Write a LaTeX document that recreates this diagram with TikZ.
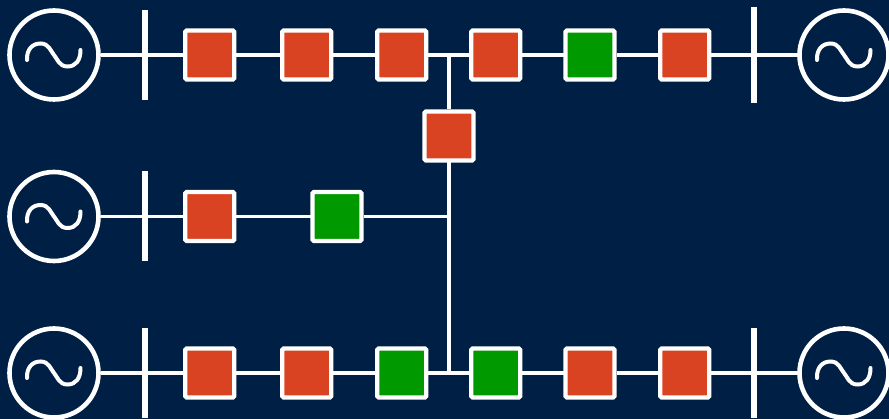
\documentclass[tikz,border=0pt]{standalone}
\usepackage{tikz}
\definecolor{navy}{HTML}{001F44}
\definecolor{redbox}{HTML}{DA4321}
\definecolor{greenbox}{HTML}{009900}
\tikzset{
  link/.style={draw=white,line width=3.8pt},
  gen/.style={circle,draw=white,line width=4.6pt,minimum size=89pt,inner sep=0pt,outer sep=2pt},
  wave/.style={draw=white,line width=4pt,line cap=round},
  bus/.style={rectangle,fill=white,draw=none,minimum width=6pt,inner sep=0pt,outer sep=0pt},
  redsq/.style={rectangle,rounded corners=1.5pt,draw=white,fill=redbox,line width=4.4pt,minimum size=49pt,inner sep=0pt,outer sep=2pt},
  greensq/.style={redsq,fill=greenbox},
}
\begin{document}
\begin{tikzpicture}[x=1pt,y=-1pt]
\fill[navy] (0,0) rectangle (889,419);
\useasboundingbox (0,0) rectangle (889,419);
% generators
\node[gen] (gen1) at (54,55) {};
\node[gen] (gen2) at (54,216.5) {};
\node[gen] (gen3) at (54,373) {};
\node[gen] (gen4) at (844,55) {};
\node[gen] (gen5) at (844,373) {};
\foreach \cx/\cy in {54/55,54/216.5,54/373,844/55,844/373} {
  \begin{scope}[shift={(\cx,\cy)}]
    \draw[wave] (-27,5) .. controls (-27.5,-5) and (-22,-11.5) .. (-13.5,-11.5)
      .. controls (-5,-11.5) and (-3.5,-4) .. (0,0)
      .. controls (3.5,4) and (5,11.5) .. (13.5,11.5)
      .. controls (22,11.5) and (26.5,5) .. (26.5,-5);
  \end{scope}
}
% bus bars
\node[bus,minimum height=90pt] (bus1) at (145,55) {};
\node[bus,minimum height=90pt] (bus2) at (145,216.5) {};
\node[bus,minimum height=90pt] (bus3) at (145,373) {};
\node[bus,minimum height=96pt] (bus4) at (754,55) {};
\node[bus,minimum height=90pt] (bus5) at (754,373) {};
% top row
\node[redsq] (a1) at (209.7,55) {};
\node[redsq] (a2) at (306.7,55) {};
\node[redsq] (a3) at (401.7,55) {};
\node[redsq] (a4) at (495.7,55) {};
\node[greensq] (a5) at (590,55) {};
\node[redsq] (a6) at (684.7,55) {};
% middle row
\node[redsq] (b1) at (209.7,216.5) {};
\node[greensq] (b2) at (337,216.5) {};
% bottom row
\node[redsq] (c1) at (209.7,373) {};
\node[redsq] (c2) at (306.7,373) {};
\node[greensq] (c3) at (401.7,373) {};
\node[greensq] (c4) at (495.7,373) {};
\node[redsq] (c5) at (590,373) {};
\node[redsq] (c6) at (684.7,373) {};
% tie line
\node[redsq] (tie) at (449,136) {};
\coordinate (ja) at (449,55);
\coordinate (jb) at (449,216.5);
\coordinate (jc) at (449,373);
% connectors
\draw[link] (gen1) -- (bus1);
\draw[link] (bus1) -- (a1);
\draw[link] (a1) -- (a2);
\draw[link] (a2) -- (a3);
\draw[link] (a3) -- (a4);
\draw[link] (a4) -- (a5);
\draw[link] (a5) -- (a6);
\draw[link] (a6) -- (bus4);
\draw[link] (bus4) -- (gen4);
\draw[link] (gen2) -- (bus2);
\draw[link] (bus2) -- (b1);
\draw[link] (b1) -- (b2);
\draw[link] (b2) -- (jb);
\draw[link] (gen3) -- (bus3);
\draw[link] (bus3) -- (c1);
\draw[link] (c1) -- (c2);
\draw[link] (c2) -- (c3);
\draw[link] (c3) -- (c4);
\draw[link] (c4) -- (c5);
\draw[link] (c5) -- (c6);
\draw[link] (c6) -- (bus5);
\draw[link] (bus5) -- (gen5);
\draw[link] (ja) -- (tie);
\draw[link] (tie) -- (jc);
\end{tikzpicture}
\end{document}
